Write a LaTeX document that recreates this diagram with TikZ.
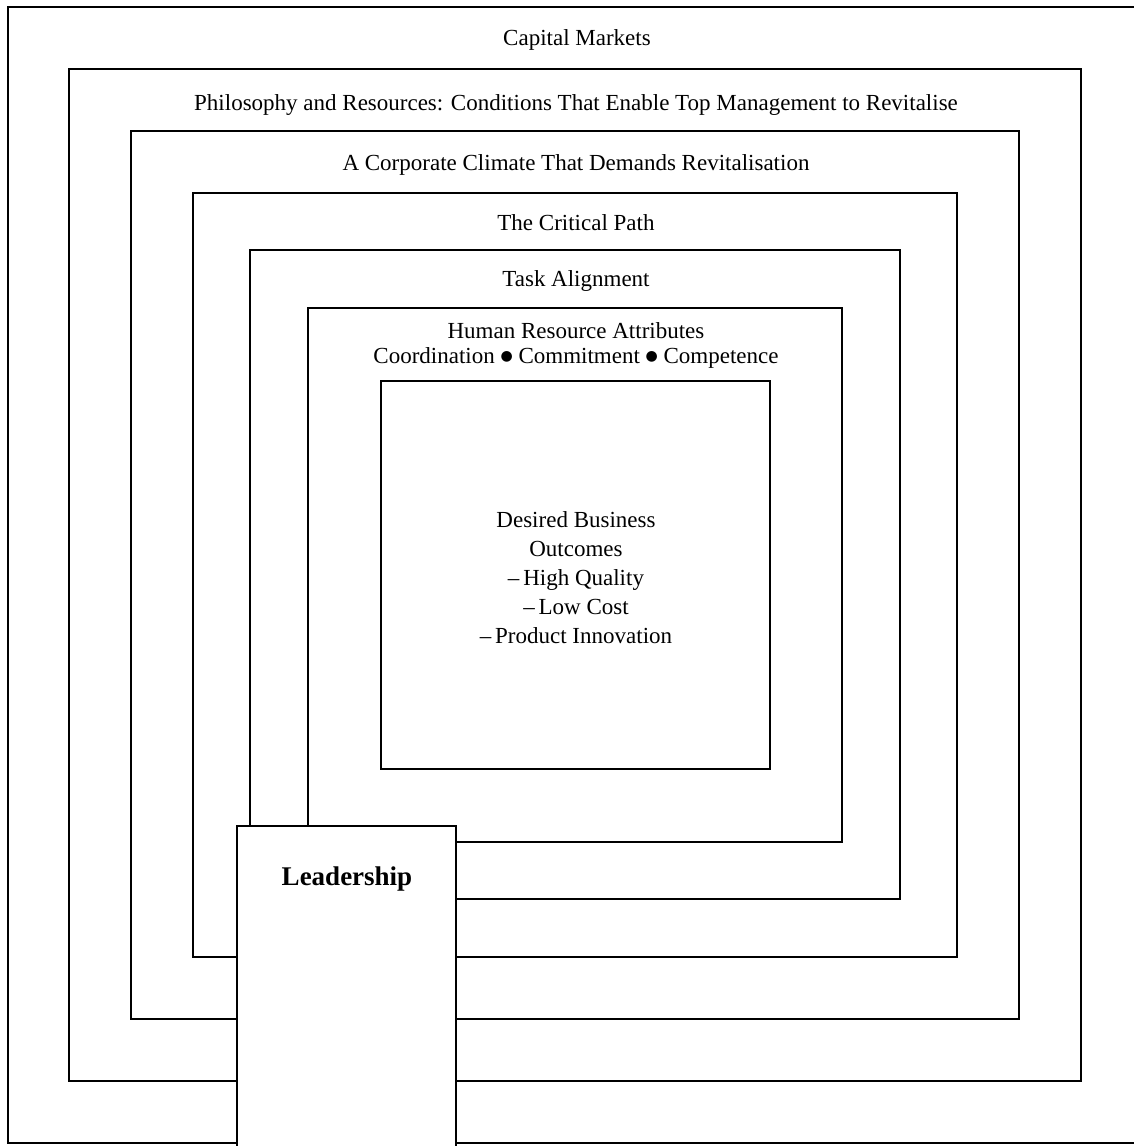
\documentclass[tikz,border=0pt]{standalone}
\usepackage{fontspec}
\setmainfont{Liberation Serif}
\newfontfamily\symbolfont{DejaVu Sans}
\newcommand{\attrdot}{\ \raisebox{2.5pt}{\symbolfont\fontsize{14}{14}\selectfont ●}\ }

\begin{document}
\begin{tikzpicture}[x=1pt, y=-1pt, line width=1.6pt, font=\fontsize{23}{25}\selectfont]
	\clip (0,0) rectangle (1134,1146);
	\draw (8,7) rectangle (1142,1143);
	\node (capital) at (577,40) {Capital Markets};
	\draw (69,69) rectangle (1081,1081);
	\node (philosophy) at (576,105) {Philosophy and Resources: Conditions That Enable Top Management to Revitalise};
	\draw (131,131) rectangle (1019,1019);
	\node (climate) at (576,165) {A Corporate Climate That Demands Revitalisation};
	\draw (193,193) rectangle (957,957);
	\node (path) at (576,223) {The Critical Path};
	\draw (250,250) rectangle (900,899);
	\node (task) at (576,281) {Task Alignment};
	\draw (308,308) rectangle (842,842);
	\node[align=center] (hr) at (576,345) {Human Resource Attributes\\Coordination\attrdot Commitment\attrdot Competence};
	\draw (381,381) rectangle (770,769);
	\node[align=center, font=\fontsize{23}{29}\selectfont] (outcomes) at (576,578) {Desired Business\\Outcomes\\--\,High Quality\\--\,Low Cost\\--\,Product Innovation};
	\draw[fill=white] (237,826) rectangle (456,1160);
	\node[font=\bfseries\fontsize{27}{30}\selectfont] (leadership) at (347,879) {Leadership};
\end{tikzpicture}
\end{document}
